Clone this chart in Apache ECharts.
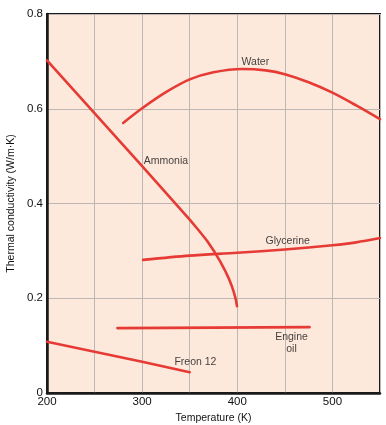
<!DOCTYPE html>
<html><head><meta charset="utf-8">
<script src="https://cdn.jsdelivr.net/npm/echarts@6/dist/echarts.min.js"></script>
<style>html,body{margin:0;padding:0;background:#fff}#c{width:386px;height:425px}</style>
</head><body><div id="c"></div>
<script>
const xTicks = [200, 300, 400, 500];
const yTicks = [0, 0.2, 0.4, 0.6, 0.8];
const ammonia = [[200,0.702],[300,0.479],[350,0.366],[360,0.342],[368,0.322],[376,0.298],[382,0.278],[387,0.259],[391,0.242],[394,0.227],[396.5,0.212],[398.5,0.197],[399.7,0.183]];
const water = [[280,0.570],[300,0.601],[325,0.635],[350,0.662],[375,0.677],[405,0.684],[430,0.681],[450,0.673],[475,0.656],[500,0.634],[525,0.607],[550,0.578]];
const glycerine = [[301,0.281],[350,0.290],[400,0.296],[450,0.303],[500,0.312],[525,0.318],[550,0.327]];
const engineOil = [[274,0.137],[375,0.138],[476,0.139]];
const freon12 = [[200,0.108],[250,0.087],[300,0.066],[350,0.044]];
const labels = [
  {name:'Water', value:[419,0.698]},
  {name:'Ammonia', value:[325,0.489]},
  {name:'Glycerine', value:[453,0.321]},
  {name:'Engine\noil', value:[457,0.106]},
  {name:'Freon 12', value:[356,0.065]}
];
const red = '#e63b35';
const chart = echarts.init(document.getElementById('c'));
function line(d, s){return {type:'line', data:d, smooth:s, symbol:'none', lineStyle:{color:red, width:2.6, cap:'round', join:'round'}, z:3};}
chart.setOption({
  animation:false,
  grid:{left:47, right:6, top:14, bottom:32, outerBoundsMode:'none', containLabel:false, show:true, backgroundColor:'#fde8dc', borderColor:'#1a1a1a', borderWidth:2},
  xAxis:{type:'value', min:200, max:550, interval:50,
    name:'Temperature (K)', nameLocation:'middle', nameGap:20,
    nameTextStyle:{fontFamily:'Liberation Sans', fontSize:10.5, color:'#111'},
    axisLine:{show:true, lineStyle:{color:'#1a1a1a', width:2.5}},
    axisTick:{show:false},
    axisLabel:{fontFamily:'Liberation Sans', fontSize:11.5, color:'#111', margin:3,
      formatter:v=> xTicks.includes(v)? String(v):''},
    splitLine:{show:true, lineStyle:{color:'#bdb6b2', width:1}}},
  yAxis:{type:'value', min:0, max:0.8, interval:0.2,
    name:'Thermal conductivity (W/m\u00b7K)', nameLocation:'middle', nameGap:29,
    nameTextStyle:{fontFamily:'Liberation Sans', fontSize:10.5, color:'#111'},
    axisLine:{show:true, lineStyle:{color:'#1a1a1a', width:2.5}},
    axisTick:{show:false},
    axisLabel:{fontFamily:'Liberation Sans', fontSize:11.5, color:'#111', margin:4,
      formatter:v=>{const t=yTicks.find(a=>Math.abs(a-v)<1e-9); return t===undefined?'':String(t);}},
    splitLine:{show:true, lineStyle:{color:'#bdb6b2', width:1}}},
  series:[
    line(ammonia, false), line(water, 0.3), line(glycerine, 0.3), line(engineOil, false), line(freon12, false),
    {type:'scatter', data:labels, symbolSize:0, z:5,
     label:{show:true, position:'inside', formatter:p=>p.name, fontFamily:'Liberation Sans', fontSize:10.5, color:'#111', lineHeight:12, align:'center'}}
  ]
});
</script></body></html>
